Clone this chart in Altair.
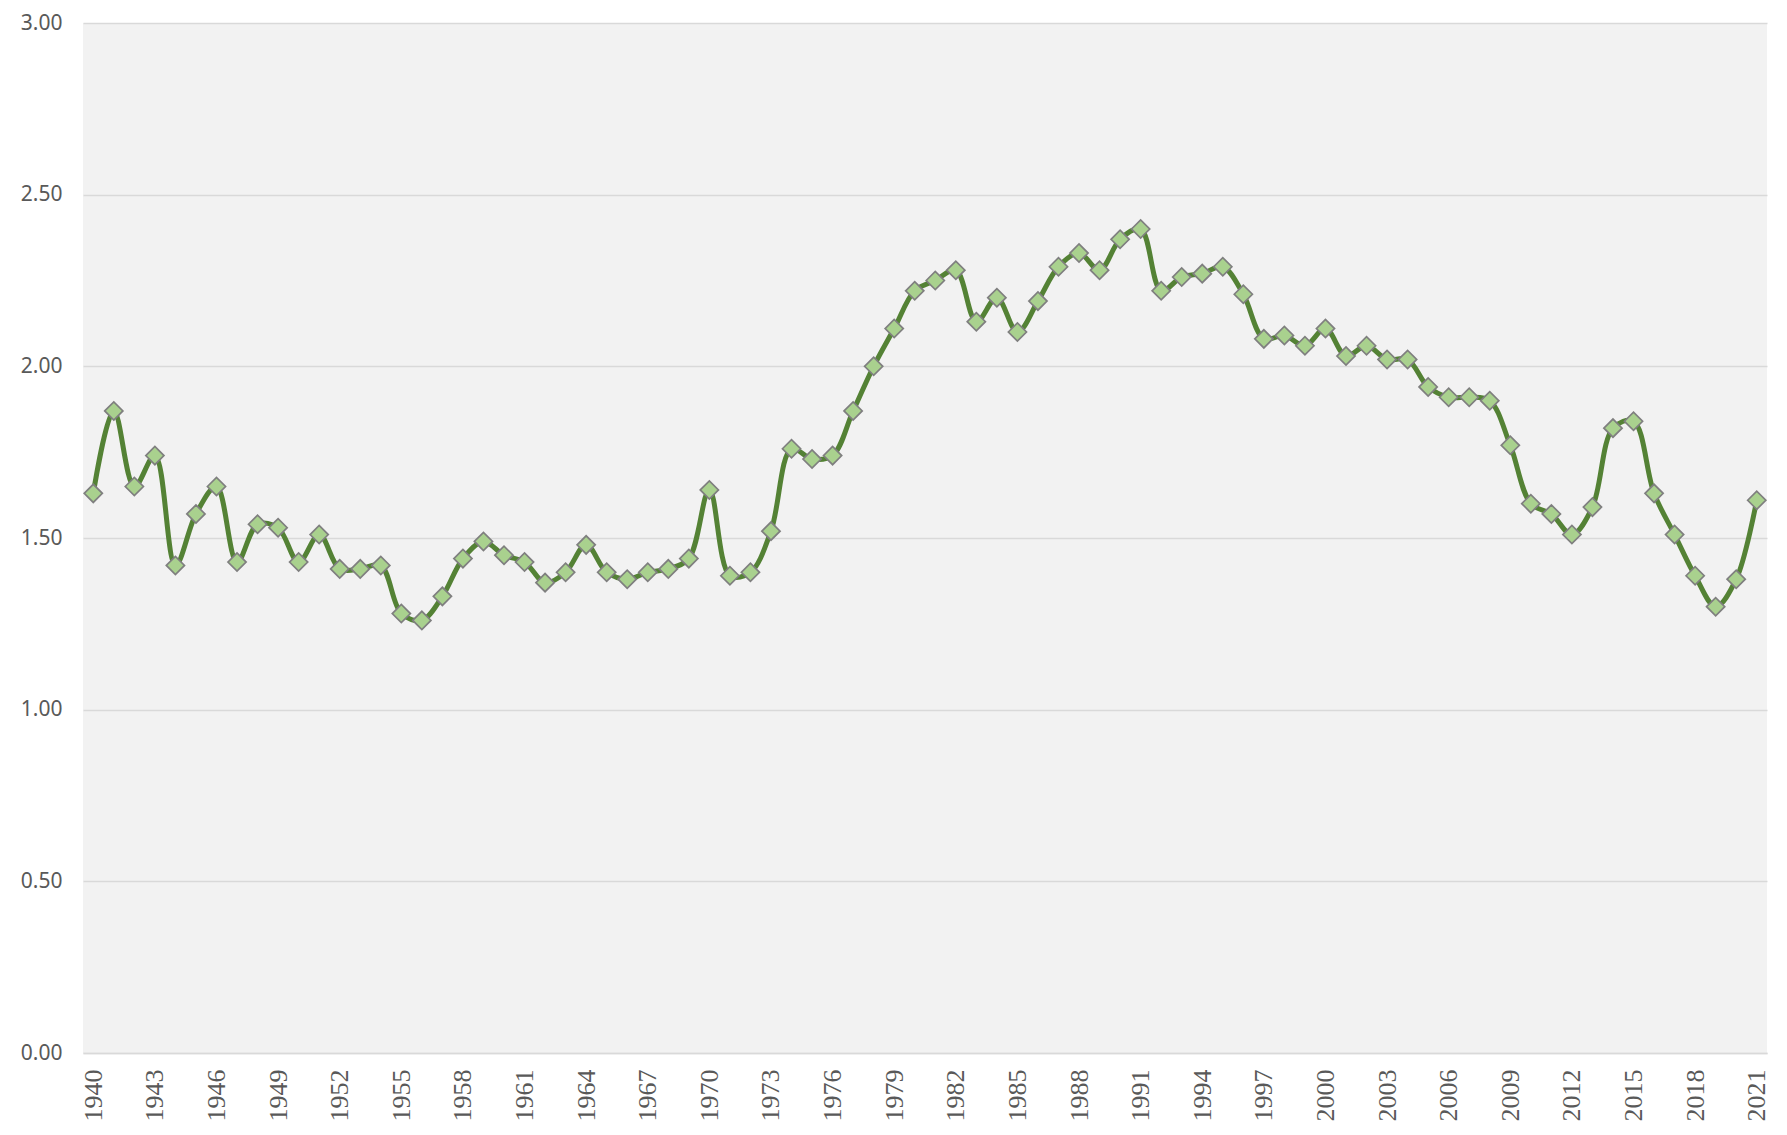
import altair as alt
import pandas as pd

years = list(range(1940, 2022))
values = [
    1.63, 1.87, 1.65, 1.74, 1.42, 1.57, 1.65, 1.43, 1.54, 1.53,
    1.43, 1.51, 1.41, 1.41, 1.42, 1.28, 1.26, 1.33, 1.44, 1.49,
    1.45, 1.43, 1.37, 1.40, 1.48, 1.40, 1.38, 1.40, 1.41, 1.44,
    1.64, 1.39, 1.40, 1.52, 1.76, 1.73, 1.74, 1.87, 2.00, 2.11,
    2.22, 2.25, 2.28, 2.13, 2.20, 2.10, 2.19, 2.29, 2.33, 2.28,
    2.37, 2.40, 2.22, 2.26, 2.27, 2.29, 2.21, 2.08, 2.09, 2.06,
    2.11, 2.03, 2.06, 2.02, 2.02, 1.94, 1.91, 1.91, 1.90, 1.77,
    1.60, 1.57, 1.51, 1.59, 1.82, 1.84, 1.63, 1.51, 1.39, 1.30,
    1.38, 1.61,
]
x_tick_labels = [1940, 1943, 1946, 1949, 1952, 1955, 1958, 1961, 1964, 1967,
                 1970, 1973, 1976, 1979, 1982, 1985, 1988, 1991, 1994, 1997,
                 2000, 2003, 2006, 2009, 2012, 2015, 2018, 2021]
y_ticks = [0, 0.5, 1.0, 1.5, 2.0, 2.5, 3.0]

df = pd.DataFrame({"year": years, "value": values})

x_enc = alt.X(
    "year:O",
    scale=alt.Scale(type="point", padding=0.5),
    axis=alt.Axis(
        values=x_tick_labels,
        title=None,
        labelAngle=270,
        labelFont="Liberation Serif",
        labelFontSize=26,
        labelColor="#595959",
        labelPadding=16,
        ticks=False,
        tickSize=0,
        domain=True,
        domainColor="#D9D9D9",
        domainWidth=1.5,
        grid=False,
    ),
)
y_enc = alt.Y(
    "value:Q",
    scale=alt.Scale(domain=[0, 3], nice=False, zero=True),
    axis=alt.Axis(
        values=y_ticks,
        format=".2f",
        title=None,
        labelFont="Noto Sans",
        labelFontSize=21,
        labelColor="#595959",
        labelPadding=21,
        ticks=False,
        tickSize=0,
        domain=False,
        grid=True,
        gridColor="#D9D9D9",
        gridWidth=1.5,
    ),
)

base = alt.Chart(df).encode(x=x_enc, y=y_enc)

line = base.mark_line(
    interpolate="catmull-rom",
    color="#548235",
    strokeWidth=5,
)
points = base.mark_point(
    shape="diamond",
    filled=True,
    fill="#A9D18E",
    stroke="#7F7F7F",
    strokeWidth=1.7,
    size=330,
    opacity=1,
)

chart = (
    alt.layer(line, points)
    .properties(
        width=1684,
        height=1030,
        autosize=alt.AutoSizeParams(type="none"),
        padding={"left": 75, "top": 15, "right": 12, "bottom": 80},
        background="#FFFFFF",
    )
    .configure_view(fill="#F2F2F2", stroke=None)
)

chart.save("out.html", embed_options={"renderer": "svg", "actions": False})
